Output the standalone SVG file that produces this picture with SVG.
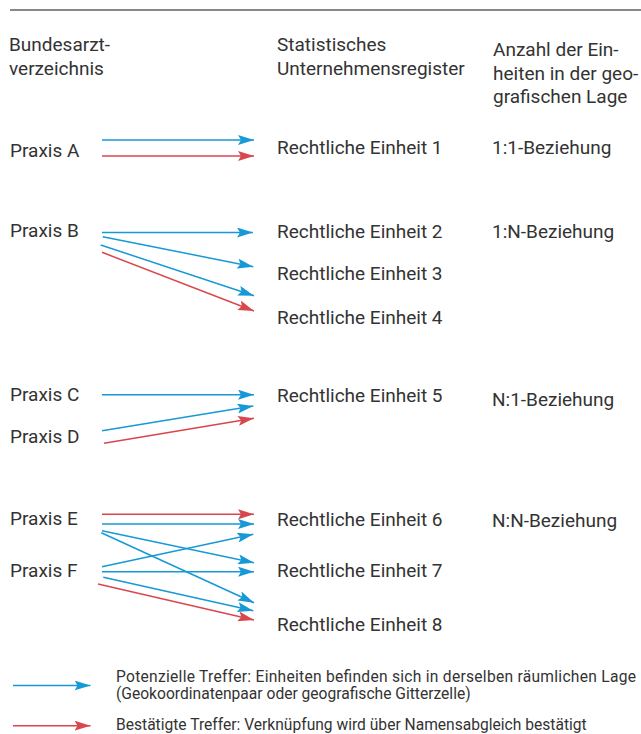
<svg xmlns="http://www.w3.org/2000/svg" width="641" height="734" viewBox="0 0 641 734">
<style>
  text { font-family: Roboto, "Liberation Sans", sans-serif; fill: #333; font-size: 19px; }
  .legend { font-size: 15.6px; }
  .blue { stroke: #1799d6; stroke-width: 1.5; fill: none; marker-end: url(#ab); }
  .red { stroke: #d8474e; stroke-width: 1.5; fill: none; marker-end: url(#ar); }
</style>
<defs>
  <marker id="ab" viewBox="0 0 16 10" markerWidth="16" markerHeight="10" refX="16" refY="5" orient="auto" markerUnits="userSpaceOnUse">
    <path d="M0,0 L16,5 L0,10 L3,5 z" fill="#1799d6"/>
  </marker>
  <marker id="ar" viewBox="0 0 16 10" markerWidth="16" markerHeight="10" refX="16" refY="5" orient="auto" markerUnits="userSpaceOnUse">
    <path d="M0,0 L16,5 L0,10 L3,5 z" fill="#d8474e"/>
  </marker>
</defs>
<rect width="641" height="734" fill="#ffffff"/>
<line x1="10" y1="10" x2="641" y2="10" stroke="#888" stroke-width="2"/>

<g id="headers">
  <text x="9" y="51">Bundesarzt-</text>
  <text x="9" y="74.5">verzeichnis</text>
  <text x="277" y="51">Statistisches</text>
  <text x="277" y="74.5">Unternehmensregister</text>
  <text x="493" y="56">Anzahl der Ein-</text>
  <text x="493" y="79.5">heiten in der geo-</text>
  <text x="493" y="103">grafischen Lage</text>
</g>

<g id="praxis-a"><text x="10" y="157">Praxis A</text></g>
<g id="praxis-b"><text x="10" y="237">Praxis B</text></g>
<g id="praxis-c"><text x="10" y="401">Praxis C</text></g>
<g id="praxis-d"><text x="10" y="443">Praxis D</text></g>
<g id="praxis-e"><text x="10" y="525">Praxis E</text></g>
<g id="praxis-f"><text x="10" y="577">Praxis F</text></g>

<g id="einheit-1"><text x="277" y="154">Rechtliche Einheit 1</text></g>
<g id="einheit-2"><text x="277" y="238">Rechtliche Einheit 2</text></g>
<g id="einheit-3"><text x="277" y="280">Rechtliche Einheit 3</text></g>
<g id="einheit-4"><text x="277" y="324">Rechtliche Einheit 4</text></g>
<g id="einheit-5"><text x="277" y="402">Rechtliche Einheit 5</text></g>
<g id="einheit-6"><text x="277" y="526">Rechtliche Einheit 6</text></g>
<g id="einheit-7"><text x="277" y="577">Rechtliche Einheit 7</text></g>
<g id="einheit-8"><text x="277" y="631">Rechtliche Einheit 8</text></g>

<g id="beziehungen">
  <text x="492" y="154">1:1-Beziehung</text>
  <text x="492" y="238">1:N-Beziehung</text>
  <text x="492" y="406">N:1-Beziehung</text>
  <text x="492" y="527">N:N-Beziehung</text>
</g>

<g id="connectors">
  <path class="blue" d="M102,140 L254,140"/>
  <path class="red" d="M102,156 L254,156"/>

  <path class="blue" d="M102,232.5 L253,232.5"/>
  <path class="blue" d="M102.7,236.7 L253.3,266.7"/>
  <path class="blue" d="M100.7,245 L254,295.7"/>
  <path class="red" d="M102,252.3 L254,311"/>

  <path class="blue" d="M102,394.7 L254,394.7"/>
  <path class="blue" d="M102,430.7 L253.3,406"/>
  <path class="red" d="M104,443.3 L254,418.3"/>

  <path class="red" d="M102,514.3 L254,514.3"/>
  <path class="blue" d="M102,524 L254,524"/>
  <path class="blue" d="M102,530.7 L254,562.7"/>
  <path class="blue" d="M101.3,532.7 L254,602.7"/>
  <path class="blue" d="M102,566.7 L253.3,534.3"/>
  <path class="blue" d="M102,571.7 L254,571.7"/>
  <path class="blue" d="M103.3,577.3 L253.3,610.7"/>
  <path class="red" d="M98,584 L254,620"/>

  <path class="blue" d="M13,685.5 L90.5,685.5"/>
  <path class="red" d="M13,725.7 L90.5,725.7"/>
</g>

<g id="legend">
  <text class="legend" x="116" y="681.5" textLength="520" lengthAdjust="spacing">Potenzielle Treffer: Einheiten befinden sich in derselben räumlichen Lage</text>
  <text class="legend" x="116" y="699">(Geokoordinatenpaar oder geografische Gitterzelle)</text>
  <text class="legend" x="116" y="730">Bestätigte Treffer: Verknüpfung wird über Namensabgleich bestätigt</text>
</g>
</svg>
